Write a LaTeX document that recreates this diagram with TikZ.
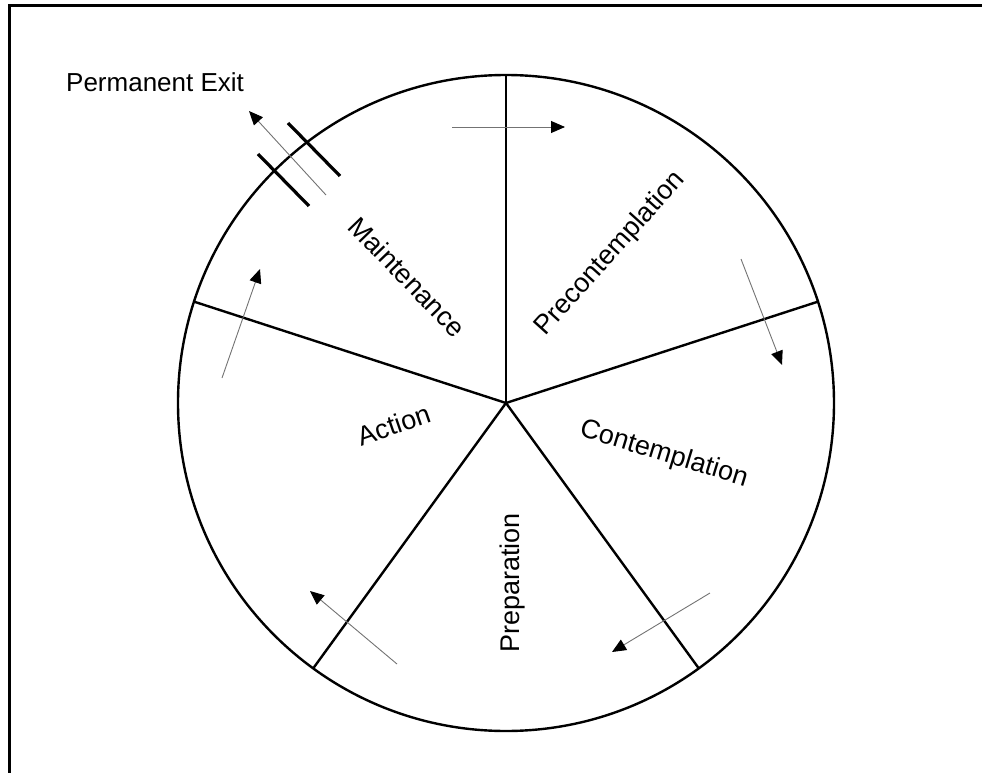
\documentclass[tikz,border=0pt]{standalone}
\usepackage{fontspec}
\setmainfont{Liberation Sans}
\usetikzlibrary{arrows.meta}

\begin{document}
\begin{tikzpicture}[x=1pt, y=1pt, line width=2.4pt,
    stage/.style={font=\fontsize{27}{32}\selectfont, inner sep=0pt},
    flow/.style={line width=0.9pt, draw=black!55,
        -{Triangle[length=14pt, width=12pt, color=black]}},
    cut/.style={line width=3.2pt}]

% Page size (hub of the wheel is the origin)
\useasboundingbox (-506, -369) rectangle (476, 403);

% Frame, only top and left edges are on the page
\draw[line width=3.2pt] (-496.5, -400) -- (-496.5, 397.5) -- (500, 397.5);

% Define wheel size
\def\r{328} % Radius
\coordinate (hub) at (0, 0);

% Draw the wheel
\draw (hub) circle [radius=\r];

% Draw the five spokes
\foreach \a in {90, 18, -54, -126, 162} {
    \draw (hub) -- (\a:\r);
}

% Stage labels
\node[stage, rotate=48]  (precon)  at (55:182)   {Precontemplation};
\node[stage, rotate=-17] (contemp) at (-18:166)  {Contemplation};
\node[stage, rotate=90]  (prep)    at (-88:180)  {Preparation};
\node[stage, rotate=19]  (act)     at (191:114)  {Action};
\node[stage, rotate=-46] (maint)   at (128:160)  {Maintenance};

% Arrow ends
\coordinate (a1) at (-54, 276);   \coordinate (b1) at (59, 276);
\coordinate (a2) at (235, 144);   \coordinate (b2) at (276, 38);
\coordinate (a3) at (204, -190);  \coordinate (b3) at (106, -249);
\coordinate (a4) at (-109, -261); \coordinate (b4) at (-196, -188);
\coordinate (a5) at (-284, 25);   \coordinate (b5) at (-246, 134);
\coordinate (a6) at (-180, 208);  \coordinate (b6) at (-257, 292);

% Draw the cycle arrows
\foreach \i in {1, ..., 6} {
    \draw[flow] (a\i) -- (b\i);
}

% Exit gate
\draw[cut] (-218, 280) -- (-166, 227);
\draw[cut] (-248, 249) -- (-197, 197);
\node[stage, font=\fontsize{26}{31}\selectfont, anchor=base west] (exit) at (-441, 312) {Permanent Exit};

\end{tikzpicture}
\end{document}
